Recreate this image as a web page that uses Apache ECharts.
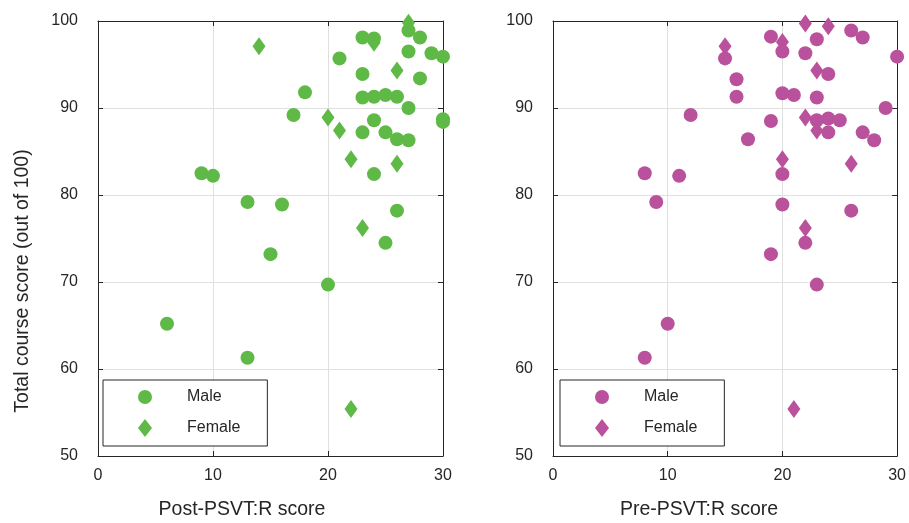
<!DOCTYPE html>
<html>
<head>
<meta charset="utf-8">
<script src="https://cdn.jsdelivr.net/npm/echarts@6/dist/echarts.min.js"></script>
<style>
html,body{margin:0;padding:0;background:#fff;}
#chart{width:909px;height:523px;}
</style>
</head>
<body>
<div id="chart"></div>
<script>
// ---- Data ----
const xTicks = [0, 10, 20, 30];
const yTicks = [50, 60, 70, 80, 90, 100];

// Left panel: Post-PSVT:R score vs total course score
const postMaleX = [27,23,24,28,27,29,30,21,23,28,18,23,24,25,26,27,17,30,30,24,23,25,26,27,24,9,10,13,16,26,25,15,20,6,13];
const postMaleY = [98.9,98.1,98.0,98.1,96.5,96.3,95.9,95.7,93.9,93.4,91.8,91.2,91.3,91.5,91.3,90.0,89.2,88.7,88.4,88.6,87.2,87.2,86.4,86.3,82.4,82.5,82.2,79.2,78.9,78.2,74.5,73.2,69.7,65.2,61.3];
const postFemaleX = [14,27,24,26,20,21,22,26,23,22];
const postFemaleY = [97.1,99.8,97.5,94.3,88.9,87.4,84.1,83.6,76.2,55.4];

// Right panel: Pre-PSVT:R score vs total course score
const preMaleX = [26,27,19,23,15,20,22,30,16,24,16,20,21,23,29,12,19,23,24,25,24,27,28,17,8,11,20,9,20,26,22,19,23,10,8];
const preMaleY = [98.9,98.1,98.2,97.9,95.7,96.5,96.3,95.9,93.3,93.9,91.3,91.7,91.5,91.2,90.0,89.2,88.5,88.6,88.8,88.6,87.2,87.2,86.3,86.4,82.5,82.2,82.4,79.2,78.9,78.2,74.5,73.2,69.7,65.2,61.3];
const preFemaleX = [22,24,20,15,23,22,23,20,26,22,21];
const preFemaleY = [99.7,99.4,97.6,97.1,94.3,88.9,87.4,84.1,83.6,76.2,55.4];

const legendNames = ['Male', 'Female'];
const xTitles = ['Post-PSVT:R score', 'Pre-PSVT:R score'];
const yTitle = 'Total course score (out of 100)';

// ---- Styling ----
const GREEN = '#5fb946';
const MAGENTA = '#b9519c';
const INK = '#262626';
const FONT = '"Liberation Sans", Arial, Helvetica, sans-serif';

const zip = (xs, ys) => xs.map((x, i) => [x, ys[i]]);

const chart = echarts.init(document.getElementById('chart'), null, {renderer: 'canvas'});

function xAxisPair(gridIndex) {
  const base = {
    type: 'value', gridIndex, min: xTicks[0], max: xTicks[xTicks.length - 1],
    interval: xTicks[1] - xTicks[0],
    axisLine: {show: true, onZero: false, lineStyle: {color: INK, width: 1}},
    axisTick: {show: true, inside: true, length: 5, lineStyle: {color: INK}}
  };
  return [
    Object.assign({}, base, {
      position: 'bottom',
      axisLabel: {show: true, color: INK, fontSize: 16, fontFamily: FONT, margin: 12},
      splitLine: {show: true, lineStyle: {color: '#e0e0e0', width: 1}}
    }),
    Object.assign({}, base, {
      position: 'top', axisLabel: {show: false}, splitLine: {show: false}
    })
  ];
}
function yAxisPair(gridIndex) {
  const base = {
    type: 'value', gridIndex, min: yTicks[0], max: yTicks[yTicks.length - 1],
    interval: yTicks[1] - yTicks[0],
    axisLine: {show: true, onZero: false, lineStyle: {color: INK, width: 1}},
    axisTick: {show: true, inside: true, length: 5, lineStyle: {color: INK}}
  };
  return [
    Object.assign({}, base, {
      position: 'left',
      axisLabel: {show: true, color: INK, fontSize: 16, fontFamily: FONT, margin: 20, padding: [0, 0, 8, 0]},
      splitLine: {show: true, lineStyle: {color: '#e0e0e0', width: 1}}
    }),
    Object.assign({}, base, {
      position: 'right', axisLabel: {show: false}, splitLine: {show: false}
    })
  ];
}

function legendFor(left, suffix) {
  return {
    orient: 'vertical', left: left, top: 380,
    padding: [9, 27, 9, 35], itemGap: 14, itemWidth: 14, itemHeight: 18,
    borderColor: INK, borderWidth: 1, backgroundColor: '#fff',
    selectedMode: false,
    formatter: n => n.trim(),
    textStyle: {fontSize: 16, color: INK, fontFamily: FONT, padding: [0, 0, 8, 30]},
    data: [
      {name: legendNames[0] + suffix, icon: 'circle'},
      {name: legendNames[1] + suffix, icon: 'diamond'}
    ]
  };
}

function scatter(name, data, xi, yi, color, symbol, size) {
  return {
    type: 'scatter', name, data, xAxisIndex: xi, yAxisIndex: yi,
    symbol, symbolSize: size, clip: false,
    itemStyle: {color, opacity: 1},
    emphasis: {disabled: true}
  };
}

const option = {
  animation: false,
  backgroundColor: '#fff',
  grid: [
    {left: 98, top: 21, width: 345, height: 435},
    {left: 553, top: 21, width: 348, height: 435}
  ],
  xAxis: [...xAxisPair(0), ...xAxisPair(1)],
  yAxis: [...yAxisPair(0), ...yAxisPair(1)],
  legend: [legendFor(103, ''), legendFor(560, ' ')],
  series: [
    scatter(legendNames[1], zip(postFemaleX, postFemaleY), 0, 0, GREEN, 'diamond', [13, 18]),
    scatter(legendNames[0], zip(postMaleX, postMaleY), 0, 0, GREEN, 'circle', 14),
    scatter(legendNames[1] + ' ', zip(preFemaleX, preFemaleY), 2, 2, MAGENTA, 'diamond', [13, 18]),
    scatter(legendNames[0] + ' ', zip(preMaleX, preMaleY), 2, 2, MAGENTA, 'circle', 14)
  ],
  graphic: [
    {type: 'text', x: 242, y: 510, style: {text: xTitles[0], fill: INK, font: '19.5px ' + FONT, textAlign: 'center', textVerticalAlign: 'middle'}},
    {type: 'text', x: 699, y: 510, style: {text: xTitles[1], fill: INK, font: '19.5px ' + FONT, textAlign: 'center', textVerticalAlign: 'middle'}},
    {type: 'text', x: 23, y: 281, rotation: Math.PI / 2, style: {text: yTitle, fill: INK, font: '19.5px ' + FONT, textAlign: 'center', textVerticalAlign: 'middle'}}
  ]
};
chart.setOption(option);
</script>
</body>
</html>
